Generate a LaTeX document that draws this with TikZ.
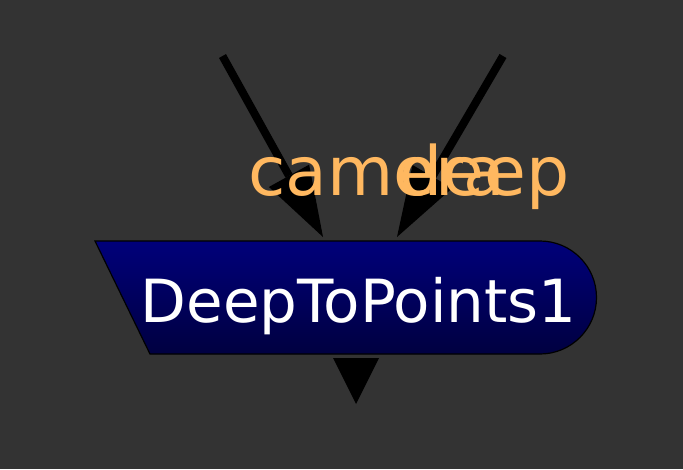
\documentclass[tikz,border=0pt]{standalone}
\usepackage{fontspec}
\setmainfont{DejaVu Sans}
\usetikzlibrary{arrows.meta}
\definecolor{bgc}{HTML}{333333}
\definecolor{lblc}{HTML}{FFB860}
\definecolor{navytop}{HTML}{00007A}
\definecolor{navybot}{HTML}{000040}
\tikzset{
  conn/.style={line width=8pt, draw=black, -{Triangle[length=70pt,width=46pt,line width=0pt]}},
  portlabel/.style={anchor=base west, inner sep=0pt, text=lblc, font=\fontsize{68}{80}\selectfont},
  nodebody/.style={draw=black, line width=1.2pt, top color=navytop, bottom color=navybot},
  nodetext/.style={anchor=base west, inner sep=0pt, text=white, font=\fontsize{59.5}{70}\selectfont},
  outtip/.style={fill=black}
}
\begin{document}
\begin{tikzpicture}[x=1pt,y=-1pt]
\fill[bgc] (0,0) rectangle (683,469);
\useasboundingbox (0,0) rectangle (683,469);
% node body
\coordinate (tl) at (95,241);
\coordinate (tr) at (540,241);
\coordinate (br) at (540,354);
\coordinate (bl) at (150,354);
\path[nodebody] (tl) -- (tr) arc[start angle=-90,end angle=90,radius=56.5] -- (bl) -- cycle;
\node[nodetext] (main) at (140.5,322) {DeepToPoints1};
% inputs
\coordinate (s1) at (222.5,56);
\coordinate (t1) at (323,237);
\coordinate (s2) at (503,56);
\coordinate (t2) at (397,237);
\draw[conn] (s1) -- (t1);
\draw[conn] (s2) -- (t2);
% output
\coordinate (o1) at (333,358);
\coordinate (o2) at (379,358);
\coordinate (o3) at (356,404);
\fill[outtip] (o1) -- (o2) -- (o3) -- cycle;
% labels
\node[portlabel] (lcam) at (248.3,195) {camera};
\node[portlabel] (ldeep) at (399.3,195) {deep};
\end{tikzpicture}
\end{document}
